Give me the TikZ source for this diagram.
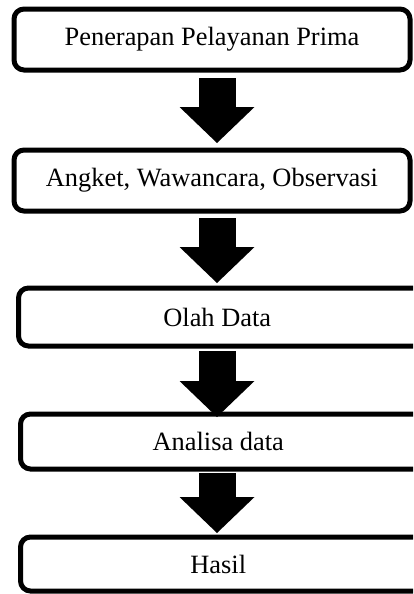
\documentclass[tikz,border=0pt]{standalone}
\usepackage{fontspec}
\setmainfont{Liberation Serif}
\usepackage{tikz}
\usetikzlibrary{arrows.meta, positioning, calc}

\begin{document}
\begin{tikzpicture}[
      x=0.5pt, y=-0.5pt,
      tahap/.style ={rectangle, draw, rounded corners=5pt, line width=2.5pt, fill=white,
                     font=\fontsize{13.2}{15}\selectfont, inner sep=0pt},
      panah/.style ={line width=18.5pt,
                     -{Triangle[length=18pt, width=37.5pt, line width=0pt]}}
    ]
    \path[use as bounding box, clip] (0,0) rectangle (413,594);

    % Kotak tahapan
    \node[tahap, minimum width=198pt,    minimum height=30.5pt] (P1) at (212,39.5)   {Penerapan Pelayanan Prima};
    \node[tahap, minimum width=198pt,    minimum height=30.5pt] (P2) at (212,180.5)  {Angket, Wawancara, Observasi};
    % tiga kotak bawah terpotong di tepi kanan
    \node[tahap, minimum width=210.75pt, minimum height=29pt]   (P3) at (229.25,317) {\hspace*{-12pt}Olah Data};
    \node[tahap, minimum width=209.75pt, minimum height=27.5pt] (P4) at (230.25,441.5) {\hspace*{-12pt}Analisa data};
    \node[tahap, minimum width=209.75pt, minimum height=27pt]   (P5) at (230.25,564) {\hspace*{-12pt}Hasil};

    % Sumbu panah
    \coordinate (ax) at (217,0);

    % Panah blok antar tahap
    \draw[panah, shorten <=2.75pt, shorten >=2.25pt]  (P1.south -| ax) -- (P2.north -| ax);
    \draw[panah, shorten <=2.25pt, shorten >=1.25pt]  (P2.south -| ax) -- (P3.north -| ax);
    \draw[panah, shorten <=1.25pt, shorten >=-2.75pt] (P3.south -| ax) -- (P4.north -| ax);
    \draw[panah, shorten <=0.75pt, shorten >=0.75pt]  (P4.south -| ax) -- (P5.north -| ax);

  \end{tikzpicture}
\end{document}
